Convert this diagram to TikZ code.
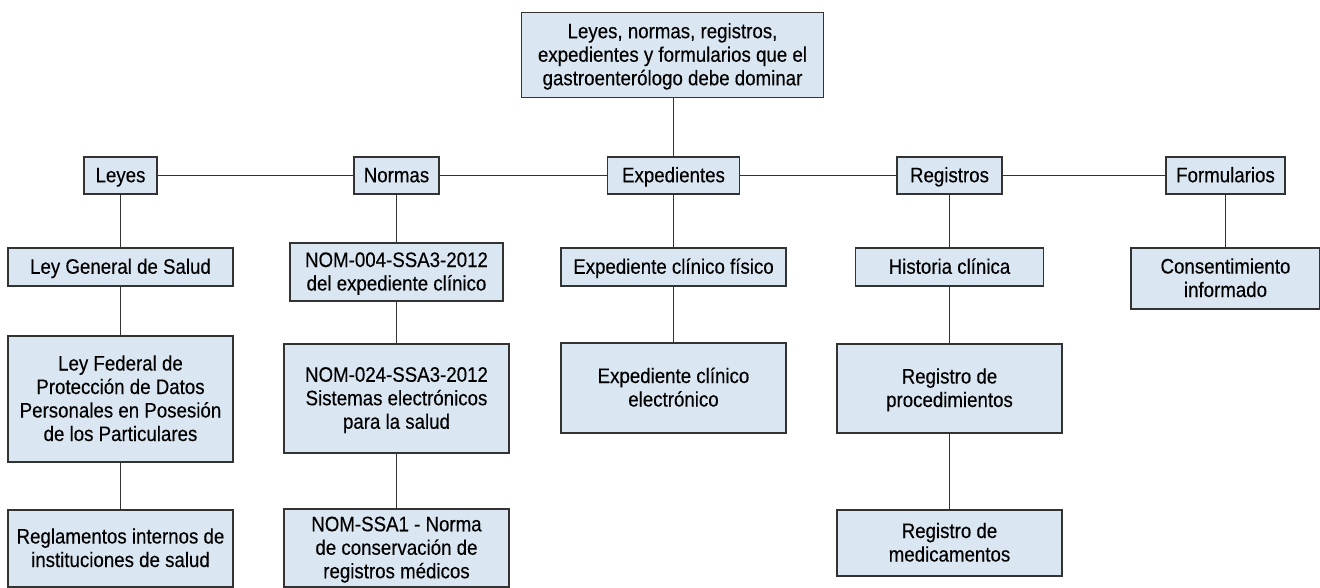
\documentclass[tikz,border=0pt]{standalone}
\usepackage{fontspec}
\setmainfont{Liberation Sans}[FakeStretch=0.89,FakeBold=0.3]
\definecolor{boxfill}{HTML}{DAE7F2}
\definecolor{edge}{HTML}{333333}
\newsavebox\btbox
\newlength\btht
% text block whose height is the cap height of the first line and whose depth is 0
\newcommand{\btxt}[1]{%
  \sbox\btbox{\begin{tabular}[b]{@{}c@{}}#1\end{tabular}}%
  \setlength\btht{\ht\btbox}\addtolength\btht{-0.7\baselineskip}\addtolength\btht{\mycap}%
  \ht\btbox=\btht \dp\btbox=0pt \usebox\btbox}
\begin{document}
\begin{tikzpicture}[x=1pt,y=-1pt,
  box/.style={draw=edge,line width=1.1pt,fill=boxfill,inner sep=0pt,
    font=\fontsize{21}{23.5}\selectfont\def\mycap{13.5pt}},
  link/.style={draw=edge,line width=1.1pt}]
\useasboundingbox (0,0) rectangle (1320,588);
\newcommand{\bx}[7][box]{\node[#1,minimum width=#5pt,minimum height=#6pt] (#2) at (#3,#4) {\btxt{#7}};}
\bx{top}{672.5}{55}{302}{85}{Leyes, normas, registros,\\expedientes y formularios que el\\gastroenterólogo debe dominar}
\bx{leyes}{120.5}{175.5}{73}{37}{Leyes}
\bx{normas}{396.5}{175.5}{85}{37}{Normas}
\bx{exped}{673.5}{175.5}{132}{37}{Expedientes}
\bx{regis}{949.5}{175.5}{105}{37}{Registros}
\bx{formu}{1225.5}{175.5}{119}{37}{Formularios}
% column 1
\bx{lgs}{120.5}{267}{225}{38}{Ley General de Salud}
\bx{lfp}{120.5}{399}{225}{126}{Ley Federal de\\Protección de Datos\\Personales en Posesión\\de los Particulares}
\bx{regl}{120.5}{548.5}{225}{77}{Reglamentos internos de\\instituciones de salud}
% column 2
\bx{nom4}{396.5}{272}{213}{58}{NOM-004-SSA3-2012\\del expediente clínico}
\bx{nom24}{396.5}{398.5}{225}{109}{NOM-024-SSA3-2012\\Sistemas electrónicos\\para la salud}
\bx{nomssa}{396.5}{548}{225}{78}{NOM-SSA1 - Norma\\de conservación de\\registros médicos}
% column 3
\bx{ecf}{673.5}{267}{225}{38}{Expediente clínico físico}
\bx{ece}{673.5}{388}{225}{90}{Expediente clínico\\electrónico}
% column 4
\bx{hc}{949.5}{267}{188}{38}{Historia clínica}
\bx{rp}{949.5}{388.5}{225}{89}{Registro de\\procedimientos}
\bx{rm}{949.5}{543}{225}{66}{Registro de\\medicamentos}
% column 5
\bx{ci}{1225.5}{278.5}{189}{61}{Consentimiento\\informado}
% connectors
\draw[link] (exped.north |- top.south) -- (exped.north);
\draw[link] (leyes) -- (normas);
\draw[link] (normas) -- (exped);
\draw[link] (exped) -- (regis);
\draw[link] (regis) -- (formu);
\draw[link] (leyes) -- (lgs);
\draw[link] (lgs) -- (lfp);
\draw[link] (lfp) -- (regl);
\draw[link] (normas) -- (nom4);
\draw[link] (nom4) -- (nom24);
\draw[link] (nom24) -- (nomssa);
\draw[link] (exped) -- (ecf);
\draw[link] (ecf) -- (ece);
\draw[link] (regis) -- (hc);
\draw[link] (hc) -- (rp);
\draw[link] (rp) -- (rm);
\draw[link] (formu) -- (ci);
\end{tikzpicture}
\end{document}
